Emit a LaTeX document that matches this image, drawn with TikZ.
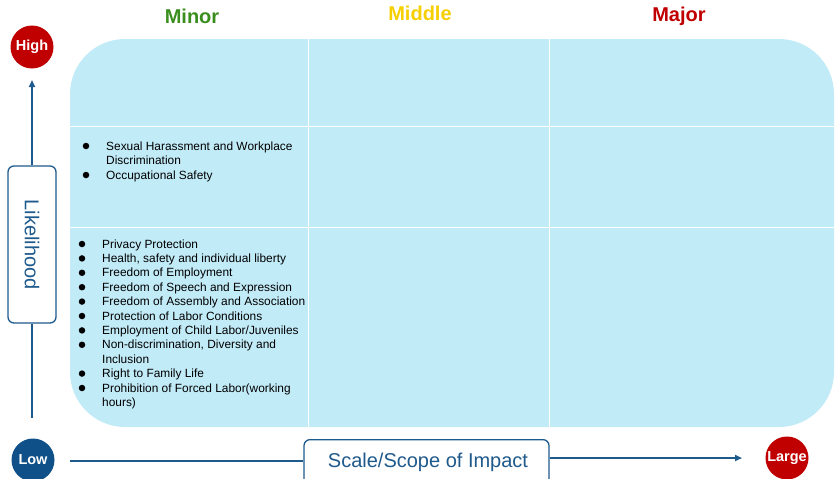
\documentclass[tikz,border=0pt]{standalone}
\usepackage{fontspec}
\setmainfont{Liberation Sans}
\usetikzlibrary{arrows.meta}
\definecolor{cellblue}{RGB}{194,235,248}
\definecolor{axisblue}{RGB}{31,90,140}
\definecolor{lowblue}{RGB}{14,80,135}
\definecolor{hired}{RGB}{192,0,0}
\definecolor{mingreen}{RGB}{58,142,30}
\definecolor{midyellow}{RGB}{245,207,0}
\tikzset{
  circ/.style={circle, minimum size=43pt, inner sep=0pt, text=white, font=\fontsize{14.5}{15}\selectfont\bfseries},
  axisline/.style={draw=axisblue, line width=2pt},
  axisbox/.style={draw=axisblue, line width=1.3pt, rounded corners=6pt, fill=white},
  head/.style={font=\fontsize{20}{22}\selectfont\bfseries},
  item/.style={anchor=base west, inner sep=0pt, font=\fontsize{11.9}{14}\selectfont},
  dot/.style={circle, fill=black, inner sep=0pt, minimum size=6.5pt},
  grid/.style={draw=white, line width=0.8pt}
}
\begin{document}
\begin{tikzpicture}[x=1pt,y=-1pt]
\useasboundingbox (0,0) rectangle (839,479);
% matrix background
\fill[cellblue, rounded corners=55pt] (70,39) rectangle (834,427);
\draw[grid] (308,39) -- (308,427);
\draw[grid] (549,39) -- (549,427);
\draw[grid] (70,126) -- (834,126);
\draw[grid] (70,227) -- (834,227);
% headers
\node[head, text=mingreen] (hminor) at (192,16) {Minor};
\node[head, text=midyellow] (hmiddle) at (420,13) {Middle};
\node[head, text=hired] (hmajor) at (679,16) {Major};
% circles
\node[circ, fill=hired] (high) at (32,47) {High};
\node[circ, fill=lowblue] (low) at (33,460) {Low};
\node[circ, fill=hired] (large) at (787,458) {Large};
% vertical axis
\node[axisbox, minimum width=48pt, minimum height=157pt] (lik) at (32,244.5) {};
\node[rotate=-90, text=axisblue, font=\fontsize{20}{22}\selectfont] (liktext) at (lik.center) {Likelihood};
\coordinate (vtip) at (32,80);
\coordinate (vbot) at (32,418);
\draw[axisline, -{Triangle[length=7pt,width=6pt]}] (lik.north) -- (vtip);
\draw[axisline] (lik.south) -- (vbot);
% horizontal axis
\node[axisbox, minimum width=245pt, minimum height=52pt, anchor=north] (scale) at (426.5,439) {};
\node[text=axisblue, font=\fontsize{20}{22}\selectfont] (scaletext) at (428,462) {Scale/Scope of Impact};
\coordinate (hstart) at (70,461);
\coordinate (htip) at (742,458);
\draw[axisline] (hstart) -- (hstart -| scale.west);
\draw[axisline, -{Triangle[length=7pt,width=6pt]}] (htip -| scale.east) -- (htip);
% cell 1 (likelihood middle, minor)
\node[dot] (b1) at (86,146) {};
\node[item] (t1) at (106,150) {Sexual Harassment and Workplace};
\node[item] (t1b) at (106,164.5) {Discrimination};
\node[dot] (b2) at (86,175) {};
\node[item] (t2) at (106,179) {Occupational Safety};
% cell 2 (likelihood low, minor)
\node[dot] (c1) at (82,244) {};
\node[item] (u1) at (102,248) {Privacy Protection};
\node[dot] (c2) at (82,258.4) {};
\node[item] (u2) at (102,262.4) {Health, safety and individual liberty};
\node[dot] (c3) at (82,272.8) {};
\node[item] (u3) at (102,276.8) {Freedom of Employment};
\node[dot] (c4) at (82,287.2) {};
\node[item] (u4) at (102,291.2) {Freedom of Speech and Expression};
\node[dot] (c5) at (82,301.6) {};
\node[item] (u5) at (102,305.6) {Freedom of Assembly and Association};
\node[dot] (c6) at (82,316) {};
\node[item] (u6) at (102,320) {Protection of Labor Conditions};
\node[dot] (c7) at (82,330.4) {};
\node[item] (u7) at (102,334.4) {Employment of Child Labor/Juveniles};
\node[dot] (c8) at (82,344.8) {};
\node[item] (u8) at (102,348.8) {Non-discrimination, Diversity and};
\node[item] (u8b) at (102,363.2) {Inclusion};
\node[dot] (c9) at (82,373.6) {};
\node[item] (u9) at (102,377.6) {Right to Family Life};
\node[dot] (c10) at (82,388) {};
\node[item] (u10) at (102,392) {Prohibition of Forced Labor(working};
\node[item] (u10b) at (102,406.4) {hours)};
\end{tikzpicture}
\end{document}
